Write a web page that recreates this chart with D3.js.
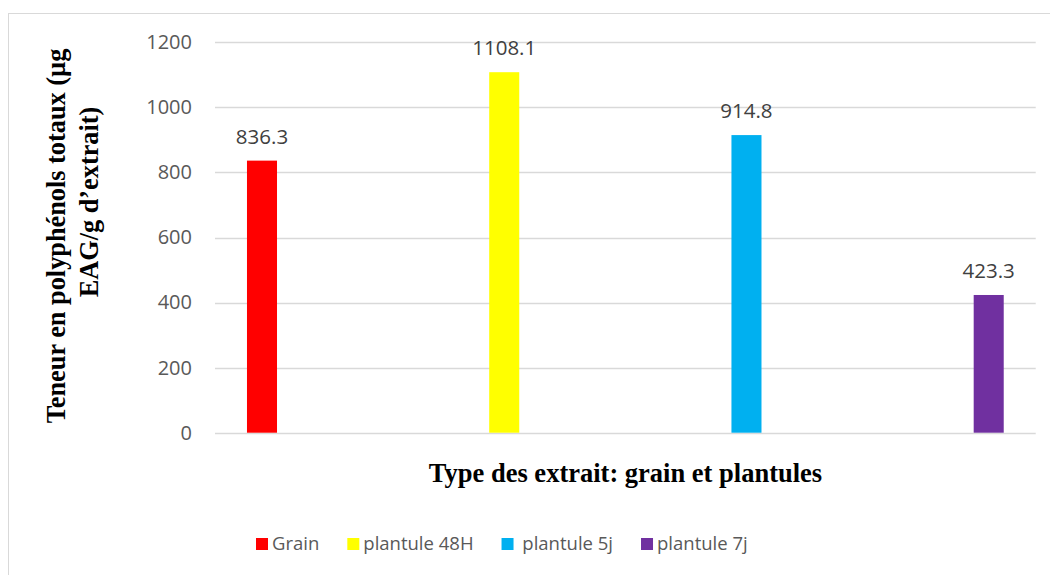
<!DOCTYPE html>
<html>
<head>
<meta charset="utf-8">
<script src="https://cdn.jsdelivr.net/npm/d3@7"></script>
<style>
  body { margin: 0; background: #fff; }
  svg text { white-space: pre; }
</style>
</head>
<body>
<div id="holder"></div>
<script>
// data
var series = ['Grain', 'plantule 48H', ' plantule 5j', 'plantule 7j'];
var values = [836.3, 1108.1, 914.8, 423.3];
var colors = ['#FF0000', '#FFFF00', '#00B0F0', '#7030A0'];
var yTicks = [0, 200, 400, 600, 800, 1000, 1200];
var xTitle = 'Type des extrait: grain et plantules';
var yTitle = ['Teneur en polyphénols totaux (µg', 'EAG/g d\u2019extrait)'];

var width = 1050, height = 575;
var svg = d3.select('#holder').append('svg').attr('width', width).attr('height', height);

// chart frame (only top and left edges fall inside the picture)
svg.append('rect')
  .attr('x', 8.5).attr('y', 13.5)
  .attr('width', 1200).attr('height', 700)
  .style('fill', 'white').style('stroke', '#d9d9d9').style('stroke-width', 1);

var plotLeft = 215, plotRight = 1035.7, plotTop = 42.3, plotBottom = 432.7;

var y = d3.scaleLinear().domain([0, 1200]).range([plotBottom, plotTop]);
var x = d3.scaleBand().domain(series).range([plotLeft, plotRight])
  .paddingInner(0.876).paddingOuter(0.132);

// gridlines
svg.append('g').selectAll('line').data(yTicks).enter().append('line')
  .attr('x1', plotLeft).attr('x2', plotRight)
  .attr('y1', function(d) { return Math.round(y(d)) + 0.5; })
  .attr('y2', function(d) { return Math.round(y(d)) + 0.5; })
  .style('stroke', '#d9d9d9').style('stroke-width', 1.3);

// y tick labels
var yAxis = svg.append('g').attr('transform', 'translate(192,0)')
  .call(d3.axisLeft(y).tickValues(yTicks).tickSize(0).tickPadding(0).tickFormat(d3.format('d')));
yAxis.select('.domain').remove();
yAxis.selectAll('text')
  .style('font-family', '"Open Sans", sans-serif').style('font-size', '20px')
  .style('fill', '#595959');

// bars
svg.append('g').selectAll('rect').data(values).enter().append('rect')
  .attr('x', function(d, i) { return x(series[i]); })
  .attr('y', function(d) { return y(d); })
  .attr('width', x.bandwidth())
  .attr('height', function(d) { return y(0) - y(d); })
  .style('fill', function(d, i) { return colors[i]; });

// value labels
svg.append('g').selectAll('text').data(values).enter().append('text')
  .attr('x', function(d, i) { return x(series[i]) + x.bandwidth() / 2; })
  .attr('y', function(d) { return y(d) - 17; })
  .attr('text-anchor', 'middle')
  .style('font-family', '"Open Sans", sans-serif').style('font-size', '20.5px')
  .style('fill', '#404040')
  .text(function(d) { return d3.format('.1f')(d); });

// axis titles
svg.append('text')
  .attr('x', 625.5).attr('y', 482)
  .attr('text-anchor', 'middle')
  .style('font-family', '"Liberation Serif", "Times New Roman", serif')
  .style('font-weight', 'bold').style('font-size', '26.5px').style('fill', '#000')
  .text(xTitle);

var yCenters = [236, 202];
var yBase = [65, 98];
yTitle.forEach(function(t, i) {
  svg.append('text')
    .attr('transform', 'translate(' + yBase[i] + ',' + yCenters[i] + ') rotate(-90)')
    .attr('text-anchor', 'middle')
    .style('font-family', '"Liberation Serif", "Times New Roman", serif')
    .style('font-weight', 'bold').style('font-size', '26.3px').style('fill', '#000')
    .text(t);
});

// legend
var legend = svg.append('g');
var lx = 256;
series.forEach(function(s, i) {
  legend.append('rect')
    .attr('x', lx).attr('y', 538).attr('width', 12).attr('height', 12)
    .style('fill', colors[i]);
  var t = legend.append('text')
    .attr('x', lx + 16).attr('y', 550)
    .style('font-family', '"Open Sans", sans-serif').style('font-size', '18.5px')
    .style('fill', '#595959')
    .text(s);
  lx += 16 + t.node().getComputedTextLength() + 28;
});
</script>
</body>
</html>
